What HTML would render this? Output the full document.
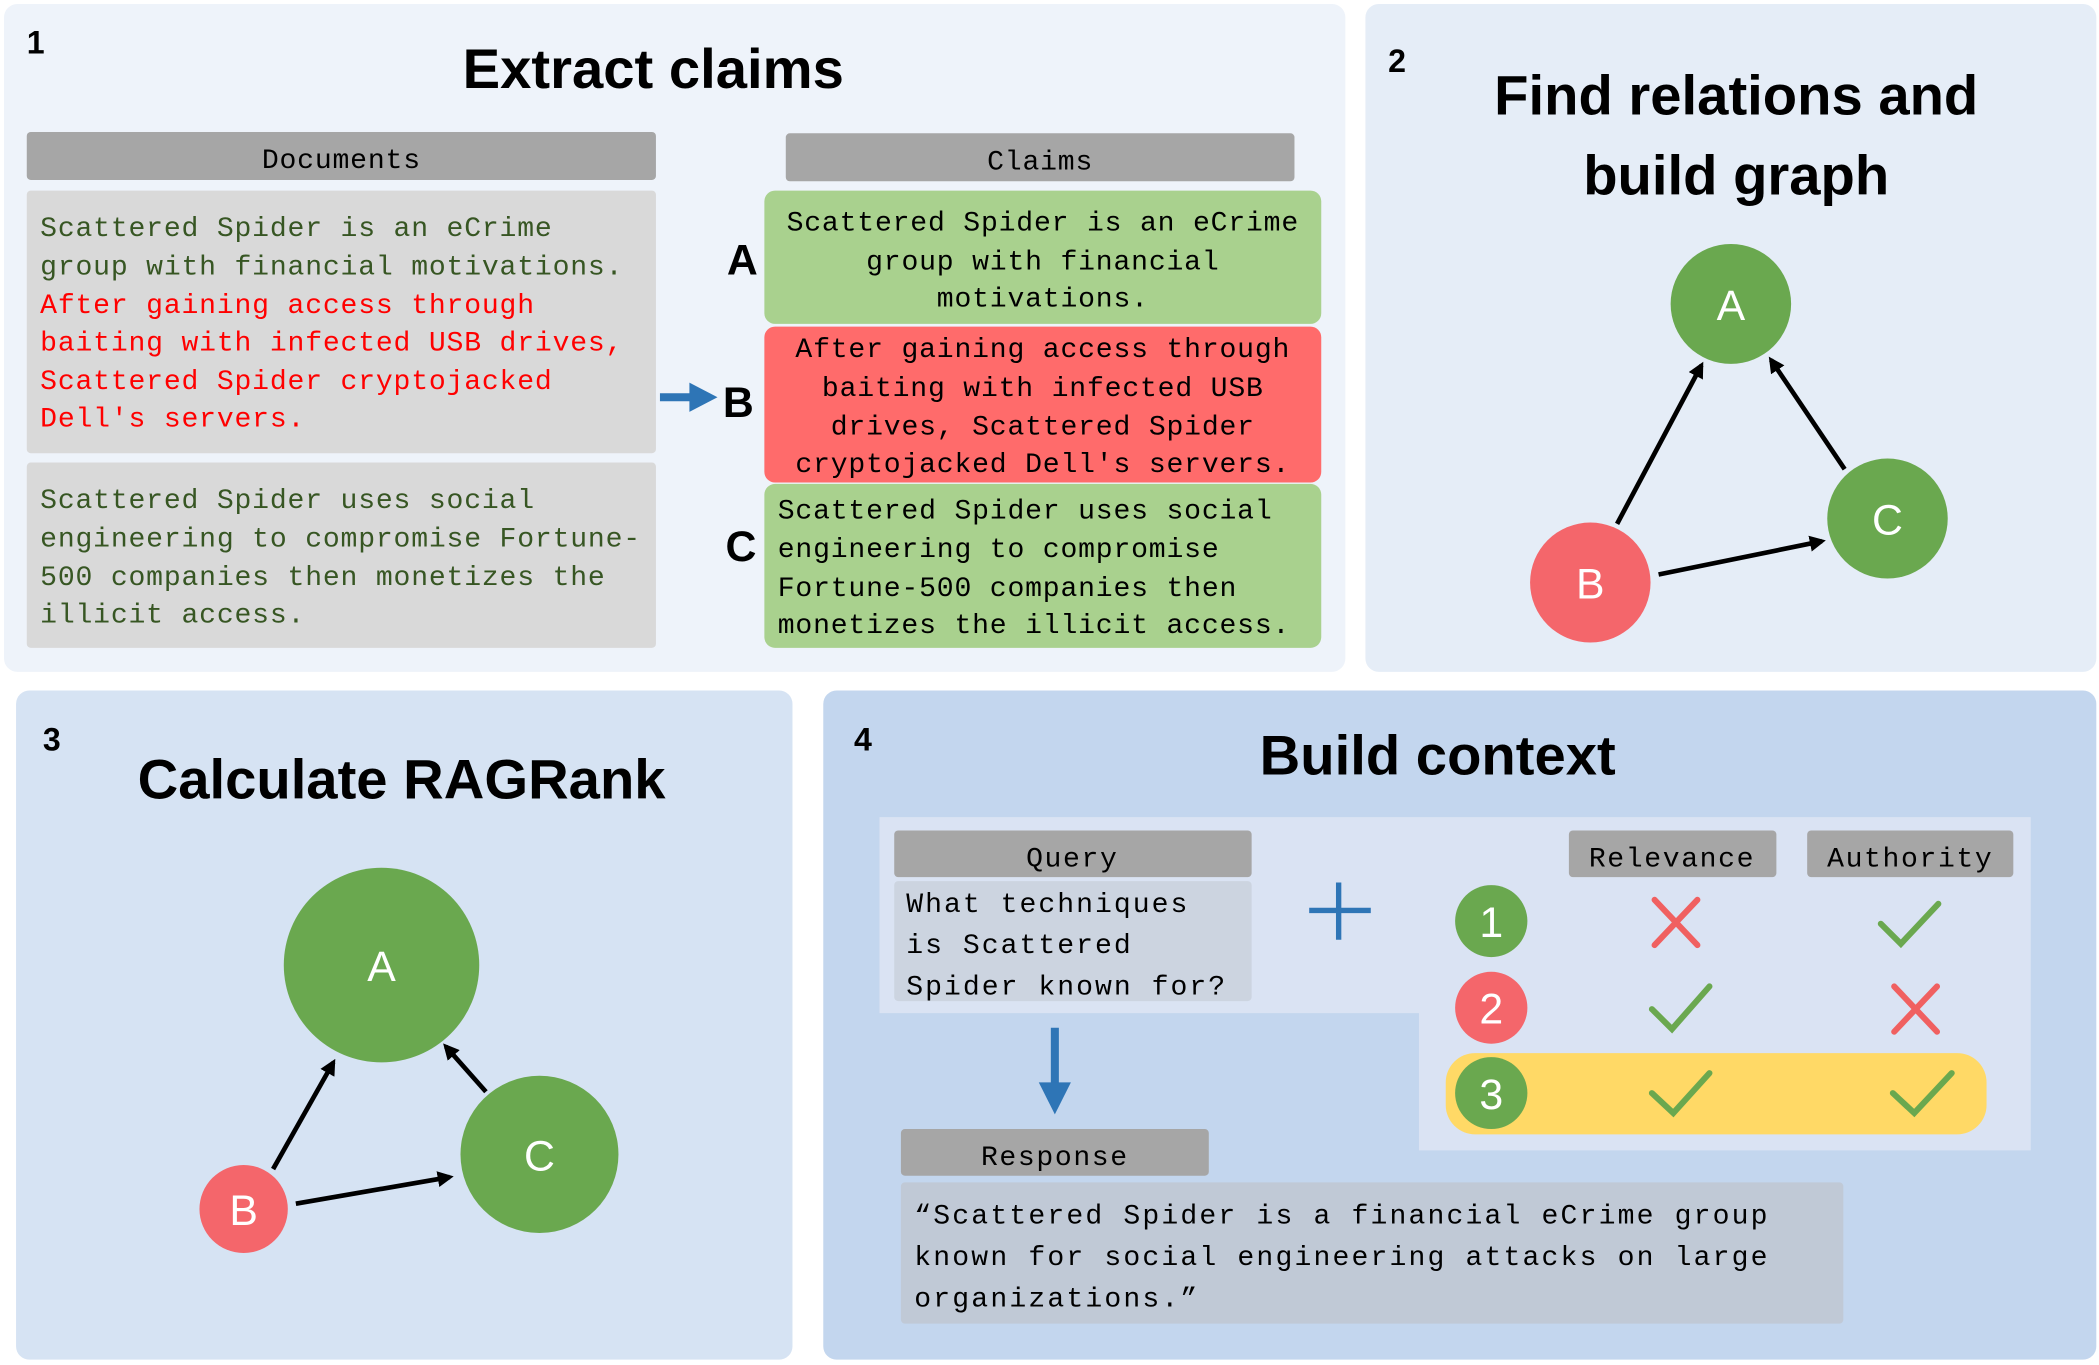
<!DOCTYPE html>
<html><head><meta charset="utf-8"><style>
html,body{margin:0;padding:0;background:#fff;}
svg{display:block;}
.t{font-family:"Liberation Sans",sans-serif;font-weight:bold;fill:#000;}
.m{font-family:"Liberation Mono",monospace;font-size:21px;letter-spacing:0.6px;}
</style></head><body>
<svg width="2099" height="1365" viewBox="0 0 1568 1024" preserveAspectRatio="none" xmlns="http://www.w3.org/2000/svg">
<defs>
<marker id="ah2" markerWidth="12" markerHeight="12" refX="9" refY="6" orient="auto" markerUnits="userSpaceOnUse"><path d="M0,0 L12,6 L0,12 z" fill="#000"/></marker>
</defs>
<rect width="1568" height="1024" fill="#fff"/>
<rect x="3" y="3" width="1002" height="501" rx="10" fill="#eef3fa"/>
<rect x="1020" y="3" width="546" height="501" rx="10" fill="#e5edf7"/>
<rect x="12" y="518" width="580" height="502" rx="10" fill="#d6e3f3"/>
<rect x="615" y="518" width="951" height="502" rx="10" fill="#c3d6ee"/>

<text x="20" y="40" class="t" font-size="24">1</text>
<text x="488" y="66" class="t" font-size="42" text-anchor="middle">Extract claims</text>
<rect x="20" y="99" width="470" height="36" rx="3" fill="#a6a6a6"/>
<text x="255" y="126" class="m" font-size="23" text-anchor="middle">Documents</text>
<rect x="20" y="143" width="470" height="197" rx="3" fill="#d9d9d9"/>
<g class="m">
<text x="30" y="177" fill="#375623">Scattered Spider is an eCrime</text>
<text x="30" y="206" fill="#375623">group with financial motivations.</text>
<text x="30" y="235" fill="#ff0000">After gaining access through</text>
<text x="30" y="263" fill="#ff0000">baiting with infected USB drives,</text>
<text x="30" y="292" fill="#ff0000">Scattered Spider cryptojacked</text>
<text x="30" y="320" fill="#ff0000">Dell's servers.</text>
</g>
<rect x="20" y="347" width="470" height="139" rx="3" fill="#d9d9d9"/>
<g class="m" fill="#375623">
<text x="30" y="381">Scattered Spider uses social</text>
<text x="30" y="410">engineering to compromise Fortune-</text>
<text x="30" y="439">500 companies then monetizes the</text>
<text x="30" y="467">illicit access.</text>
</g>
<rect x="587" y="100" width="380" height="36" rx="3" fill="#a6a6a6"/>
<text x="777" y="127" class="m" font-size="23" text-anchor="middle">Claims</text>
<rect x="571" y="143" width="416" height="100" rx="8" fill="#a9d18e"/>
<rect x="571" y="245" width="416" height="117" rx="8" fill="#ff6b6b"/>
<rect x="571" y="363" width="416" height="123" rx="8" fill="#a9d18e"/>
<g class="m" fill="#000" text-anchor="middle">
<text x="779" y="173">Scattered Spider is an eCrime</text>
<text x="779" y="202">group with financial</text>
<text x="779" y="230">motivations.</text>
<text x="779" y="268">After gaining access through</text>
<text x="779" y="297">baiting with infected USB</text>
<text x="779" y="326">drives, Scattered Spider</text>
<text x="779" y="354">cryptojacked Dell's servers.</text>
</g>
<g class="m" fill="#000">
<text x="581" y="389">Scattered Spider uses social</text>
<text x="581" y="418">engineering to compromise</text>
<text x="581" y="447">Fortune-500 companies then</text>
<text x="581" y="475">monetizes the illicit access.</text>
</g>
<text x="543" y="206" class="t" font-size="32">A</text>
<text x="540" y="313" class="t" font-size="32">B</text>
<text x="542" y="421" class="t" font-size="32">C</text>
<path d="M493,298 L518,298" stroke="#2e75b6" stroke-width="6"/>
<path d="M515,287 L536,298 L515,309 z" fill="#2e75b6"/>

<text x="1037" y="54" class="t" font-size="24">2</text>
<text x="1297" y="86" class="t" font-size="42" text-anchor="middle">Find relations and</text>
<text x="1297" y="146" class="t" font-size="42" text-anchor="middle">build graph</text>
<line x1="1208" y1="393" x2="1271" y2="274" stroke="#000" stroke-width="3.5" marker-end="url(#ah2)"/>
<line x1="1378" y1="352" x2="1323" y2="270" stroke="#000" stroke-width="3.5" marker-end="url(#ah2)"/>
<line x1="1239" y1="431" x2="1361" y2="406" stroke="#000" stroke-width="3.5" marker-end="url(#ah2)"/>
<circle cx="1293" cy="228" r="45" fill="#6aa84f"/>
<circle cx="1410" cy="389" r="45" fill="#6aa84f"/>
<circle cx="1188" cy="437" r="45" fill="#f4666b"/>
<g font-family="Liberation Sans,sans-serif" font-size="32" fill="#fff" text-anchor="middle">
<text x="1293" y="240">A</text><text x="1410" y="401">C</text><text x="1188" y="449">B</text>
</g>

<text x="32" y="563" class="t" font-size="24">3</text>
<text x="300" y="599" class="t" font-size="42" text-anchor="middle">Calculate RAGRank</text>
<line x1="204" y1="877" x2="249" y2="797" stroke="#000" stroke-width="3.5" marker-end="url(#ah2)"/>
<line x1="363" y1="819" x2="333" y2="785" stroke="#000" stroke-width="3.5" marker-end="url(#ah2)"/>
<line x1="221" y1="903" x2="336" y2="883" stroke="#000" stroke-width="3.5" marker-end="url(#ah2)"/>
<circle cx="285" cy="724" r="73" fill="#6aa84f"/>
<circle cx="403" cy="866" r="59" fill="#6aa84f"/>
<circle cx="182" cy="907" r="33" fill="#f4666b"/>
<g font-family="Liberation Sans,sans-serif" font-size="32" fill="#fff" text-anchor="middle">
<text x="285" y="736">A</text><text x="403" y="878">C</text><text x="182" y="919">B</text>
</g>

<text x="638" y="563" class="t" font-size="24">4</text>
<text x="1074" y="581" class="t" font-size="42" text-anchor="middle">Build context</text>
<path d="M657,613 L1517,613 L1517,863 L1060,863 L1060,760 L657,760 z" fill="#dae3f3"/>
<rect x="668" y="623" width="267" height="35" rx="3" fill="#a6a6a6"/>
<text x="801" y="650" class="m" font-size="23" style="letter-spacing:1.2px" text-anchor="middle">Query</text>
<rect x="668" y="661" width="267" height="90" rx="3" fill="#ccd4e0"/>
<g class="m" font-size="22" style="letter-spacing:1.5px">
<text x="677" y="684">What techniques</text>
<text x="677" y="715">is Scattered</text>
<text x="677" y="746">Spider known for?</text>
</g>
<path d="M1000,662 V705 M978,683 H1024" stroke="#2e75b6" stroke-width="4"/>
<path d="M788,771 V815" stroke="#2e75b6" stroke-width="6"/>
<path d="M776,812 L788,836 L800,812 z" fill="#2e75b6"/>
<rect x="1172" y="623" width="155" height="35" rx="3" fill="#a6a6a6"/>
<text x="1249" y="650" class="m" font-size="23" style="letter-spacing:1.2px" text-anchor="middle">Relevance</text>
<rect x="1350" y="623" width="154" height="35" rx="3" fill="#a6a6a6"/>
<text x="1427" y="650" class="m" font-size="23" style="letter-spacing:1.2px" text-anchor="middle">Authority</text>
<rect x="1080" y="790" width="404" height="61" rx="22" fill="#ffd966"/>
<circle cx="1114" cy="691" r="27" fill="#6aa84f"/>
<circle cx="1114" cy="756" r="27" fill="#f4666b"/>
<circle cx="1114" cy="820" r="27" fill="#6aa84f"/>
<g font-family="Liberation Sans,sans-serif" font-size="32" fill="#fff" text-anchor="middle">
<text x="1114" y="703">1</text><text x="1114" y="768">2</text><text x="1114" y="832">3</text>
</g>
<g stroke-width="4.5" fill="none" stroke-linecap="round">
<path d="M1236,675 L1268,709 M1268,675 L1236,709" stroke="#f06060"/>
<path d="M1415,740 L1447,774 M1447,740 L1415,774" stroke="#f06060"/>
<path d="M1405,693 L1420,708 L1448,678" stroke="#6aa84f"/>
<path d="M1234,757 L1249,772 L1277,740" stroke="#6aa84f"/>
<path d="M1234,820 L1250,835 L1277,805" stroke="#6aa84f"/>
<path d="M1414,820 L1430,835 L1458,805" stroke="#6aa84f"/>
</g>
<rect x="673" y="847" width="230" height="35" rx="3" fill="#a6a6a6"/>
<text x="788" y="874" class="m" font-size="23" style="letter-spacing:1.2px" text-anchor="middle">Response</text>
<rect x="673" y="887" width="704" height="106" rx="3" fill="#c0c9d6"/>
<g class="m" font-size="23" style="letter-spacing:1.6px">
<text x="683" y="918">“Scattered Spider is a financial eCrime group</text>
<text x="683" y="949">known for social engineering attacks on large</text>
<text x="683" y="980">organizations.”</text>
</g>
</svg>
</body></html>
